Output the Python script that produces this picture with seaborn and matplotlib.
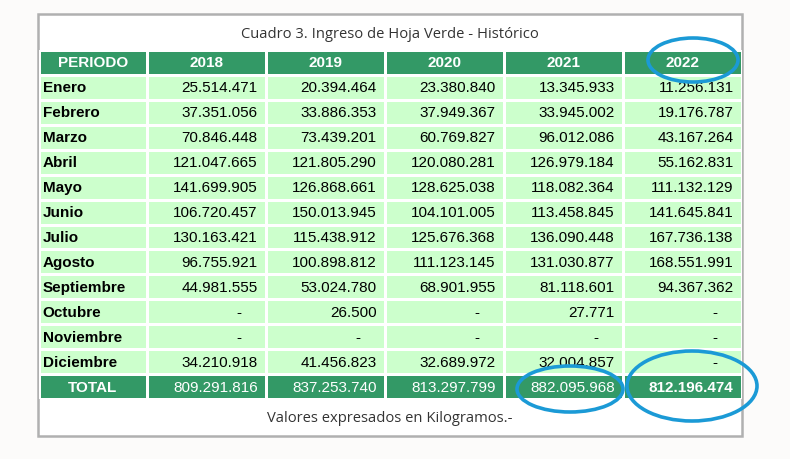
import numpy as np
import matplotlib
matplotlib.use("Agg")
import matplotlib.pyplot as plt
from matplotlib.colors import ListedColormap
from matplotlib.patches import Rectangle, Ellipse
import seaborn as sns

# datos del cuadro (kilogramos); None = "-"
meses = ['Enero', 'Febrero', 'Marzo', 'Abril', 'Mayo', 'Junio', 'Julio',
         'Agosto', 'Septiembre', 'Octubre', 'Noviembre', 'Diciembre']
anios = ['2018', '2019', '2020', '2021', '2022']

v2018 = [25514471, 37351056, 70846448, 121047665, 141699905, 106720457,
         130163421, 96755921, 44981555, None, None, 34210918]
v2019 = [20394464, 33886353, 73439201, 121805290, 126868661, 150013945,
         115438912, 100898812, 53024780, 26500, None, 41456823]
v2020 = [23380840, 37949367, 60769827, 120080281, 128625038, 104101005,
         125676368, 111123145, 68901955, None, None, 32689972]
v2021 = [13345933, 33945002, 96012086, 126979184, 118082364, 113458845,
         136090448, 131030877, 81118601, 27771, None, 32004857]
v2022 = [11256131, 19176787, 43167264, 55162831, 111132129, 141645841,
         167736138, 168551991, 94367362, None, None, None]
totales = [809291816, 837253740, 813297799, 882095968, 812196474]

titulo = 'Cuadro 3. Ingreso de Hoja Verde - Histórico'
pie = 'Valores expresados en Kilogramos.-'

VERDE = '#339966'
VERDE_CLARO = '#ccffcc'
AZUL = '#1b9ad6'
NUM_FONT = ['Liberation Sans', 'DejaVu Sans']
TXT_FONT = ['Open Sans', 'DejaVu Sans']


def fmt(v):
    if v is None:
        return '-'
    return f'{v:,}'.replace(',', '.')


columnas = [v2018, v2019, v2020, v2021, v2022]
n_filas = len(meses) + 2  # encabezado + meses + total

# 0 = verde (encabezado/total), 1 = verde claro (cuerpo)
codigo = np.ones((n_filas, 1))
codigo[0] = 0
codigo[-1] = 0
codigo_anios = np.repeat(codigo, len(anios), axis=1)
cmap = ListedColormap([VERDE, VERDE_CLARO])

W, H = 790, 460
fig = plt.figure(figsize=(W / 100, H / 100), dpi=100)
fig.patch.set_facecolor('#fcfbfa')

# fondo: recuadro con titulo y pie
base = fig.add_axes([0, 0, 1, 1])
base.set_xlim(0, W)
base.set_ylim(H, 0)
base.axis('off')
base.add_patch(Rectangle((38, 15), 704, 422, facecolor='white',
                         edgecolor='#b0b0b0', lw=1.8))
base.text(390, 34, titulo, ha='center', va='center', fontsize=10.6,
          family=TXT_FONT, color='#333333')
base.text(390, 419, pie, ha='center', va='center', fontsize=10.6,
          family=TXT_FONT, color='#333333')

top, bottom = 51, 400
x0, x1, x2 = 39, 147, 742


def fig_rect(xa, xb):
    return [xa / W, (H - bottom) / H, (xb - xa) / W, (bottom - top) / H]


# columna PERIODO
ax_p = fig.add_axes(fig_rect(x0, x1))
sns.heatmap(codigo, ax=ax_p, cmap=cmap, vmin=0, vmax=1, cbar=False,
            linewidths=2, linecolor='white', xticklabels=False,
            yticklabels=False)
ax_p.text(0.5, 0.5, 'PERIODO', ha='center', va='center', fontsize=11,
          fontweight='bold', color='white', family=NUM_FONT)
for i, m in enumerate(meses):
    ax_p.text(0.035, i + 1.5, m, ha='left', va='center', fontsize=11,
              fontweight='bold', color='black', family=NUM_FONT)
ax_p.text(0.5, n_filas - 0.5, 'TOTAL', ha='center', va='center',
          fontsize=11, fontweight='bold', color='white', family=NUM_FONT)

# columnas de anios
ax_a = fig.add_axes(fig_rect(x1, x2))
sns.heatmap(codigo_anios, ax=ax_a, cmap=cmap, vmin=0, vmax=1, cbar=False,
            linewidths=2, linecolor='white', xticklabels=False,
            yticklabels=False)
for j, (anio, col) in enumerate(zip(anios, columnas)):
    ax_a.text(j + 0.5, 0.5, anio, ha='center', va='center', fontsize=11,
              fontweight='bold', color='white', family=NUM_FONT)
    for i, v in enumerate(col):
        if v is None:
            ax_a.text(j + 0.77, i + 1.5, '-', ha='center', va='center',
                      fontsize=11, color='black', family=NUM_FONT)
        else:
            ax_a.text(j + 0.93, i + 1.5, fmt(v), ha='right', va='center',
                      fontsize=11, color='black', family=NUM_FONT)
    ax_a.text(j + 0.93, n_filas - 0.5, fmt(totales[j]), ha='right',
              va='center', fontsize=11, color='white', family=NUM_FONT,
              fontweight='bold' if j == len(anios) - 1 else 'normal')

# marcas a mano en azul
over = fig.add_axes([0, 0, 1, 1])
over.set_xlim(0, W)
over.set_ylim(H, 0)
over.axis('off')
over.patch.set_alpha(0)
for (cx, cy, ew, eh) in [(693, 61, 90, 44), (570, 390, 106, 46),
                         (692, 387, 130, 70)]:
    over.add_patch(Ellipse((cx, cy), ew, eh, fill=False, edgecolor=AZUL,
                           lw=2.6))

fig.savefig('out.png', dpi=100, facecolor=fig.get_facecolor())
